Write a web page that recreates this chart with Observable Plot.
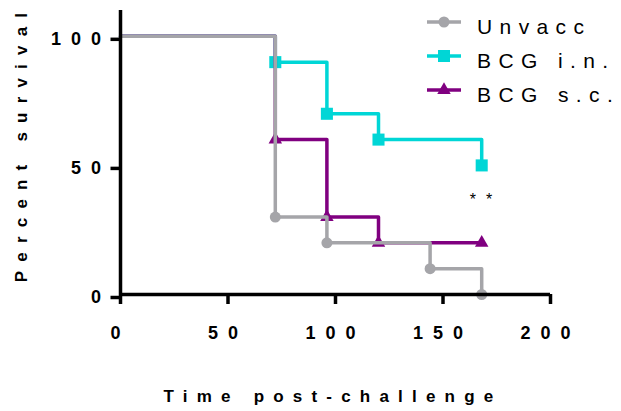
<!DOCTYPE html>
<html><head><meta charset="utf-8">
<script src="https://cdn.jsdelivr.net/npm/d3@7"></script>
<script src="https://cdn.jsdelivr.net/npm/@observablehq/plot@0.6"></script>
<style>
body{margin:0;background:#fff;}
#wrap{position:relative;width:621px;height:411px;overflow:hidden;font-family:"Liberation Sans",Arial,sans-serif;}
#wrap svg{position:absolute;left:0;top:0;}
g[aria-label="x-axis tick label"] text, g[aria-label="y-axis tick label"] text{letter-spacing:10px;}
.legend text{letter-spacing:7.4px;}
</style>
</head><body><div id="wrap"></div>
<script>
// ---- data ----
const groups = ["Unvacc", "BCG i.n.", "BCG s.c."];
const colors = ["#a5a5a9", "#00d6d6", "#800080"];
const symbols = ["circle", "square", "triangle"];
const markerR = [5.5, 6.8, 5];

const unvaccTime = [0, 72, 96, 144, 168];
const unvaccSurv = [100, 30, 20, 10, 0];
const bcgInTime  = [0, 72, 96, 120, 168];
const bcgInSurv  = [100, 90, 70, 60, 50];
const bcgScTime  = [0, 72, 96, 120, 168];
const bcgScSurv  = [100, 60, 30, 20, 20];

const xTicks = [0, 50, 100, 150, 200];
const yTicks = [0, 50, 100];
const xTitle = "Time post-challenge";
const yTitle = "Percent survival";
const annotX = [170];
const annotY = [34.5];
const annotText = ["**"];

// ---- build ----
const series = [
  {name: groups[0], t: unvaccTime, s: unvaccSurv},
  {name: groups[1], t: bcgInTime, s: bcgInSurv},
  {name: groups[2], t: bcgScTime, s: bcgScSurv}
];
const drawOrder = [1, 2, 0];
const marks = [];
for (const gi of drawOrder) {
  const d = series[gi];
  const rows = d.t.map((t, i) => ({t, s: d.s[i]}));
  marks.push(Plot.line(rows, {x: "t", y: "s", curve: "step-after", stroke: colors[gi], strokeWidth: 3.5}));
  marks.push(Plot.dot(rows.filter(r => r.t > 0), {x: "t", y: "s", symbol: () => symbols[gi], fill: colors[gi], r: markerR[gi], stroke: "none"}));
}
const annot = annotX.map((x, i) => ({x, y: annotY[i], text: annotText[i]}));

const chart = Plot.plot({
  width: 621, height: 411,
  marginLeft: 120, marginRight: 71, marginTop: 10, marginBottom: 117,
  x: {domain: [0, 200]},
  y: {domain: [0, 110]},
  symbol: {type: "identity"},
  style: {fontFamily: '"Liberation Sans", Arial, sans-serif', background: "white", color: "black", overflow: "visible"},
  marks: [
    ...marks,
    Plot.ruleY([0], {strokeWidth: 3.5, stroke: "black"}),
    Plot.ruleX([0], {strokeWidth: 3.5, stroke: "black"}),
    Plot.axisX({ticks: xTicks, tickSize: 10, strokeWidth: 3.5, tickPadding: 22, fontSize: 18, fontWeight: "bold", label: null, tickFormat: d => String(d)}),
    Plot.axisY({ticks: yTicks, tickSize: 9.5, strokeWidth: 3.5, tickPadding: 0, fontSize: 18, fontWeight: "bold", label: null, dy: 3, tickFormat: d => String(d)}),
    Plot.text([xTitle], {frameAnchor: "bottom", textAnchor: "middle", lineAnchor: "bottom", dy: 107, dx: -2.5, fontSize: 17, fontWeight: "bold"}),
    Plot.text([yTitle], {frameAnchor: "left", textAnchor: "middle", rotate: -90, lineAnchor: "middle", dx: -99, dy: -9.5, fontSize: 17, fontWeight: "bold"}),
    Plot.text(annot, {x: "x", y: "y", text: "text", lineAnchor: "bottom", fontSize: 16})
  ]
});
document.getElementById("wrap").appendChild(chart);

// letter spacing for titles and annotation
d3.select(chart).selectAll("text").each(function () {
  const t = this.textContent;
  if (t === xTitle || t === yTitle) this.style.letterSpacing = "9.2px";
  else if (annotText.includes(t)) this.style.letterSpacing = "10px";
});

// ---- legend ----
const lg = d3.select("#wrap").append("svg").attr("class", "legend")
  .attr("width", 621).attr("height", 411).style("pointer-events", "none");
const rowY = [22, 56, 90];
const symMap = {circle: d3.symbolCircle, square: d3.symbolSquare, triangle: d3.symbolTriangle};
groups.forEach((g, i) => {
  const row = lg.append("g").attr("transform", `translate(0,${rowY[i]})`);
  row.append("line").attr("x1", 427).attr("x2", 461).attr("y1", 0).attr("y2", 0)
    .attr("stroke", colors[i]).attr("stroke-width", 3.5);
  row.append("path").attr("transform", "translate(444,0)")
    .attr("d", d3.symbol(symMap[symbols[i]], Math.PI * markerR[i] * markerR[i])())
    .attr("fill", colors[i]);
  row.append("text").attr("x", 477).attr("y", 12)
    .attr("font-family", '"Liberation Sans", Arial, sans-serif')
    .attr("font-size", 21).attr("fill", "black").text(g);
});
</script>
</body></html>
